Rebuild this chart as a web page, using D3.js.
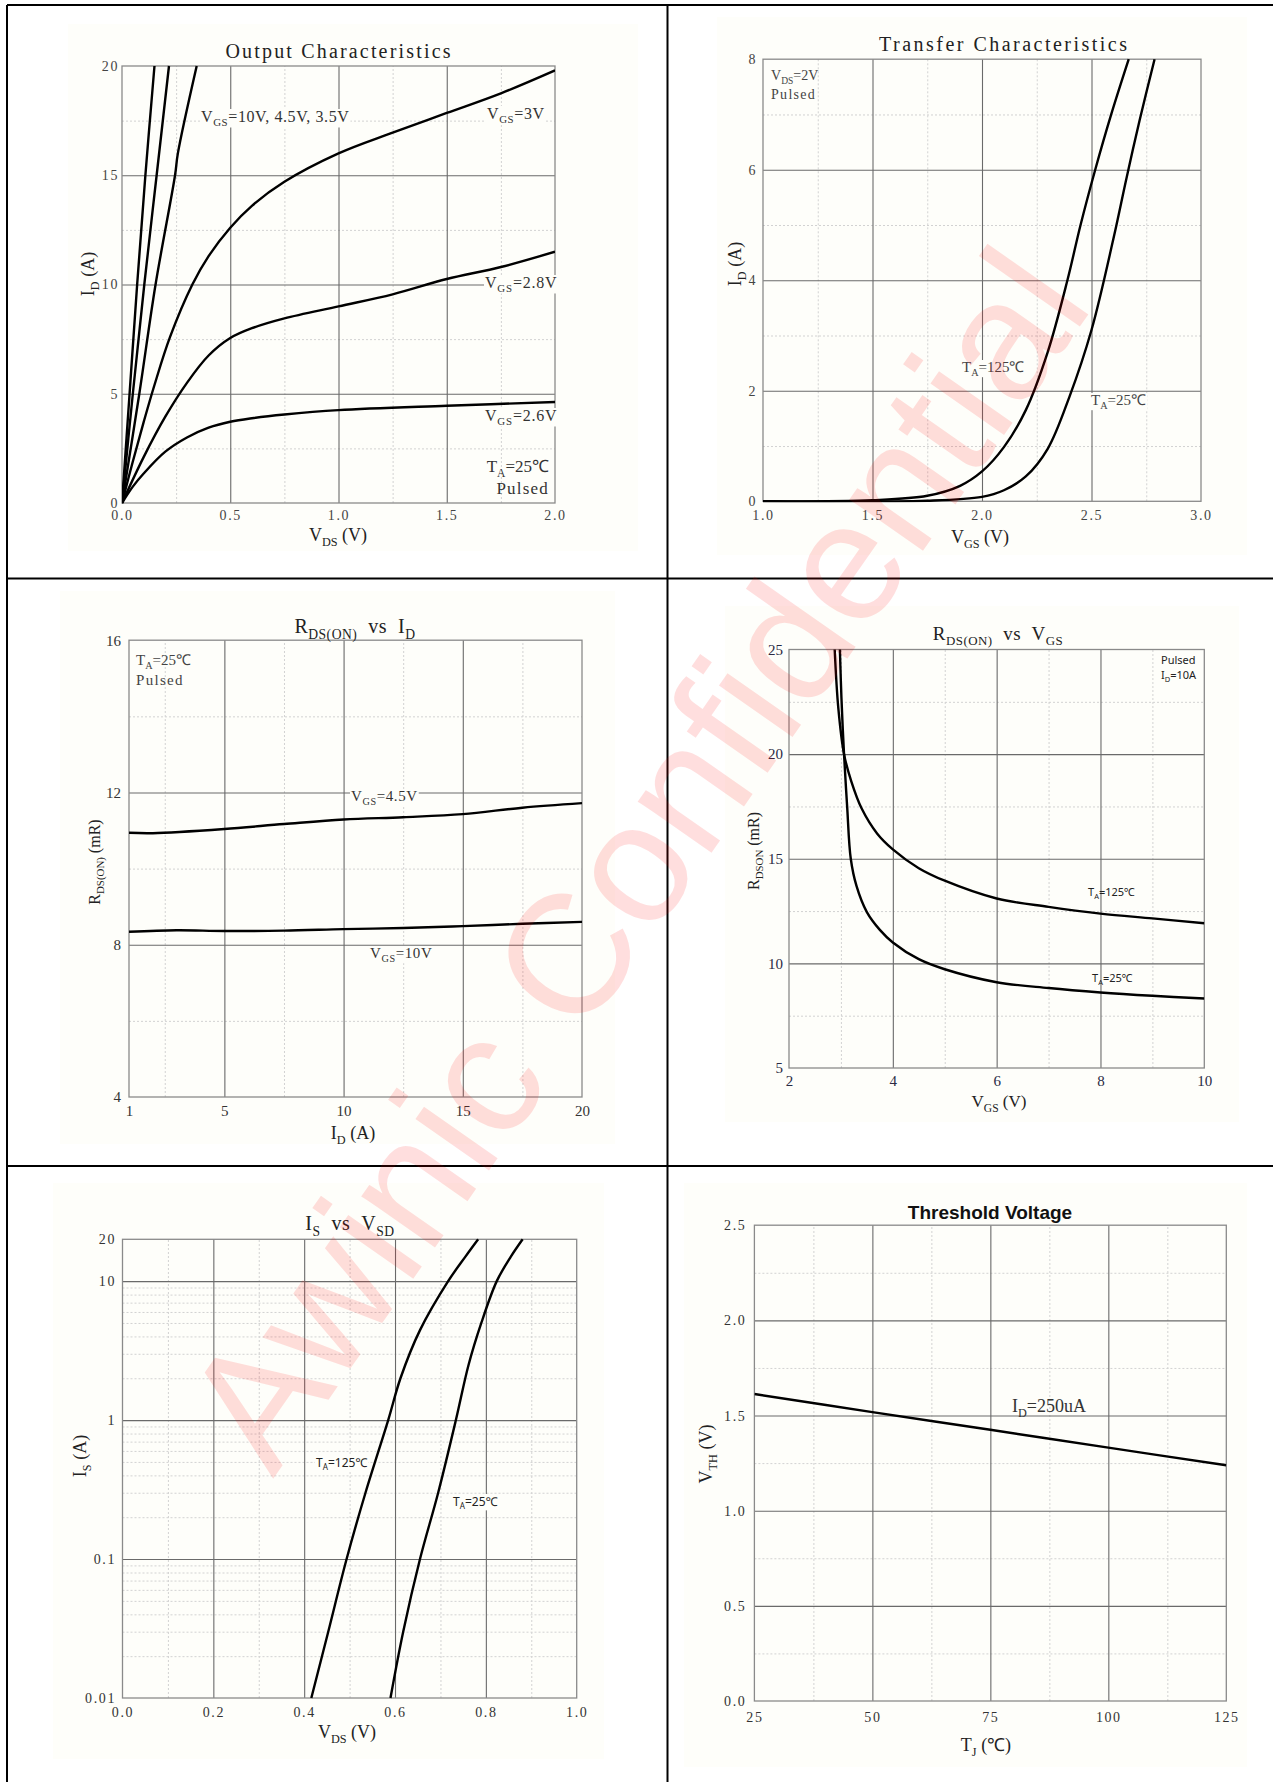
<!DOCTYPE html>
<html><head><meta charset="utf-8">
<script src="https://cdn.jsdelivr.net/npm/d3@7"></script>
<style>body{margin:0;background:#fff}svg{display:block}</style>
</head><body>
<script>
// ================= DATA =================
// Panel 1: Output Characteristics  [VDS (V), ID (A)]
const out10V  = [[0,0],[0.035,5],[0.07,10],[0.108,15],[0.15,20]];
const out45V  = [[0,0],[0.05,5],[0.103,10],[0.16,15],[0.217,20]];
const out35V  = [[0,0],[0.08,5],[0.155,10],[0.245,15],[0.258,16],[0.345,20]];
const out3V   = [[0,0],[0.05,1.9],[0.1,3.7],[0.15,5.4],[0.222,7.6],[0.325,10],[0.4,11.3],[0.5,12.6],[0.6,13.6],[0.75,14.7],[1.0,16.0],[1.25,16.95],[1.5,17.85],[1.75,18.75],[2.0,19.8]];
const out28V  = [[0,0],[0.1,2.1],[0.2,3.95],[0.3,5.5],[0.4,6.75],[0.5,7.55],[0.6,8.0],[0.75,8.45],[1.0,9.0],[1.25,9.55],[1.5,10.25],[1.75,10.8],[2.0,11.5]];
const out26V  = [[0,0],[0.05,0.75],[0.1,1.35],[0.2,2.35],[0.3,3.0],[0.4,3.45],[0.5,3.72],[0.6,3.88],[0.75,4.05],[1.0,4.25],[1.5,4.45],[2.0,4.62]];
const outXTicks = [0,0.5,1,1.5,2];     const outXLabels = ["0.0","0.5","1.0","1.5","2.0"];
const outYTicks = [0,5,10,15,20];      const outYLabels = ["0","5","10","15","20"];

// Panel 2: Transfer Characteristics [VGS (V), ID (A)]
const tr125 = [[1.0,0],[1.5,0.02],[1.75,0.1],[1.9,0.28],[2.0,0.54],[2.1,0.98],[2.2,1.65],[2.3,2.7],[2.39,4.0],[2.45,5.0],[2.517,6.0],[2.59,7.0],[2.67,8.0]];
const tr25  = [[1.0,0],[1.75,0.01],[2.0,0.08],[2.1,0.2],[2.2,0.45],[2.3,0.95],[2.4,1.9],[2.5,3.1],[2.6,4.75],[2.66,5.85],[2.72,6.9],[2.788,8.0]];
const trXTicks = [1,1.5,2,2.5,3];      const trXLabels = ["1.0","1.5","2.0","2.5","3.0"];
const trYTicks = [0,2,4,6,8];          const trYLabels = ["0","2","4","6","8"];

// Panel 3: RDS(ON) vs ID [ID (A), R (mR)]
const rid45 = [[1,10.94],[2,10.93],[5,11.04],[7.5,11.17],[10,11.29],[12.5,11.35],[15,11.43],[17.5,11.6],[20,11.72]];
const rid10 = [[1,8.34],[3,8.38],[5,8.36],[7.5,8.37],[10,8.41],[12.5,8.44],[15,8.49],[17.5,8.55],[20,8.6]];
const ridXTicks = [1,5,10,15,20];      const ridXLabels = ["1","5","10","15","20"];
const ridYTicks = [4,8,12,16];         const ridYLabels = ["4","8","12","16"];

// Panel 4: RDS(ON) vs VGS [VGS (V), R (mR)]
const rvg125 = [[2.88,25],[2.95,22.2],[3.06,20],[3.2,18.7],[3.4,17.4],[3.7,16.2],[4.0,15.45],[4.5,14.55],[5,13.95],[6,13.1],[7,12.7],[8,12.38],[9,12.15],[10,11.92]];
const rvg25  = [[2.98,25],[3.01,22.7],[3.06,20],[3.12,17.5],[3.19,15],[3.3,13.7],[3.5,12.45],[3.75,11.6],[4.0,11.0],[4.5,10.2],[5,9.72],[6,9.1],[7,8.82],[8,8.61],[9,8.45],[10,8.32]];
const rvgXTicks = [2,4,6,8,10];        const rvgXLabels = ["2","4","6","8","10"];
const rvgYTicks = [5,10,15,20,25];     const rvgYLabels = ["5","10","15","20","25"];

// Panel 5: IS vs VSD [VSD (V), IS (A)]
const isd125 = [[0.4157,0.01],[0.453,0.03],[0.4934,0.1],[0.535,0.3],[0.585,1],[0.612,2],[0.655,4.44],[0.717,10],[0.755,15],[0.783,20]];
const isd25  = [[0.59,0.01],[0.618,0.03],[0.655,0.1],[0.695,0.3],[0.734,1],[0.762,2.5],[0.79,5],[0.824,10],[0.855,15],[0.881,20]];
const isdXTicks = [0,0.2,0.4,0.6,0.8,1.0]; const isdXLabels = ["0.0","0.2","0.4","0.6","0.8","1.0"];
const isdYTicks = [0.01,0.1,1,10,20];  const isdYLabels = ["0.01","0.1","1","10","20"];

// Panel 6: Threshold Voltage [TJ (C), VTH (V)]
const vth = [[25,1.613],[50,1.518],[75,1.425],[100,1.331],[125,1.239]];
const vthXTicks = [25,50,75,100,125];  const vthXLabels = ["25","50","75","100","125"];
const vthYTicks = [0,0.5,1,1.5,2,2.5]; const vthYLabels = ["0.0","0.5","1.0","1.5","2.0","2.5"];

// ================= DRAWING =================
const SERIF = "'Liberation Serif','Times New Roman',serif";
const SANS  = "'Liberation Sans',Arial,sans-serif";
const NOTO  = "'Noto Sans','Open Sans',sans-serif";
const BG = '#fefefa';
const NB = '\u00a0';

const svg = d3.select('body').append('svg').attr('width',1273).attr('height',1782);
svg.append('rect').attr('width',1273).attr('height',1782).attr('fill','#fff');
const defs = svg.append('defs');

function rich(g, x, y, parts, o={}) {
  const fs = o.fs || 16;
  const t = g.append('text').attr('x',x).attr('y',y)
    .attr('font-family', o.ff || SERIF).attr('font-size', fs)
    .attr('fill', o.fill || '#222').attr('text-anchor', o.anchor || 'start');
  if (o.ls) t.attr('letter-spacing', o.ls);
  if (o.weight) t.attr('font-weight', o.weight);
  if (o.rotate) t.attr('transform', `rotate(${o.rotate},${x},${y})`);
  let sub = false;
  const d = fs * (o.subDy || 0.28);
  parts.forEach(p => {
    const isSub = Array.isArray(p);
    const s = t.append('tspan').text(isSub ? p[0] : p);
    if (isSub) { s.attr('font-size', fs*(o.subScale||0.68)); if(!sub) s.attr('dy', d); sub = true; }
    else if (sub) { s.attr('dy', -d); sub = false; }
  });
  if (o.bg) {
    const b = t.node().getBBox();
    g.insert('rect', () => t.node()).attr('x', b.x-1).attr('y', b.y+1).attr('width', b.width+2).attr('height', b.height-2).attr('fill', BG);
  }
  return t;
}

function gridStyle(sel, color, dash, width) {
  sel.select('.domain').remove();
  sel.selectAll('text').remove();
  sel.selectAll('line').attr('stroke', color).attr('stroke-width', width).attr('stroke-dasharray', dash);
}

let clipN = 0;
function panel(o) {
  const g = svg.append('g');
  g.append('rect').attr('x',o.bg[0]).attr('y',o.bg[1]).attr('width',o.bg[2]-o.bg[0]).attr('height',o.bg[3]-o.bg[1]).attr('fill',BG);
  const x = (o.xLog ? d3.scaleLog() : d3.scaleLinear()).domain(o.xDom).range([o.x0,o.x1]);
  const y = (o.yLog ? d3.scaleLog() : d3.scaleLinear()).domain(o.yDom).range([o.y1,o.y0]);
  const w = o.x1-o.x0, h = o.y1-o.y0;
  g.append('g').attr('transform',`translate(0,${o.y1})`)
    .call(d3.axisBottom(x).tickValues(o.xMinor).tickSize(-h).tickFormat(''))
    .call(s => gridStyle(s,'#d2d2d2','2,2',1));
  g.append('g').attr('transform',`translate(${o.x0},0)`)
    .call(d3.axisLeft(y).tickValues(o.yMinor).tickSize(-w).tickFormat(''))
    .call(s => gridStyle(s,'#d2d2d2','2,2',1));
  g.append('g').attr('transform',`translate(0,${o.y1})`)
    .call(d3.axisBottom(x).tickValues(o.xMajor).tickSize(-h).tickFormat(''))
    .call(s => gridStyle(s,'#6a6a6a',null,1.1));
  g.append('g').attr('transform',`translate(${o.x0},0)`)
    .call(d3.axisLeft(y).tickValues(o.yMajor).tickSize(-w).tickFormat(''))
    .call(s => gridStyle(s,'#6a6a6a',null,1.1));
  g.append('rect').attr('x',o.x0).attr('y',o.y0).attr('width',w).attr('height',h)
    .attr('fill','none').attr('stroke','#8a8a8a').attr('stroke-width',1.3);
  const xa = g.append('g').attr('transform',`translate(0,${o.y1})`)
    .call(d3.axisBottom(x).tickValues(o.xTicks).tickFormat((d,i)=>o.xLabels[i]).tickSize(0).tickPadding(o.xPad));
  xa.select('.domain').remove();
  xa.selectAll('text').attr('font-family',SERIF).attr('font-size',o.tickFs).attr('fill',o.tickColor||'#333').attr('letter-spacing',o.tickLs||0);
  const ya = g.append('g').attr('transform',`translate(${o.x0},0)`)
    .call(d3.axisLeft(y).tickValues(o.yTicks).tickFormat((d,i)=>o.yLabels[i]).tickSize(0).tickPadding(o.yPad));
  ya.select('.domain').remove();
  ya.selectAll('text').attr('font-family',SERIF).attr('font-size',o.tickFs).attr('fill',o.tickColor||'#333').attr('letter-spacing',o.tickLs||0);
  const id = 'clip' + (clipN++);
  defs.append('clipPath').attr('id',id).append('rect').attr('x',o.x0).attr('y',o.y0-1).attr('width',w).attr('height',h+2);
  const line = d3.line().x(d=>x(d[0])).y(d=>y(d[1])).curve(d3.curveCatmullRom.alpha(0.5));
  const lg = g.append('g').attr('clip-path',`url(#${id})`);
  lg.selectAll('path').data(o.series).join('path').attr('d',line)
    .attr('fill','none').attr('stroke','#000').attr('stroke-width',2.4).attr('stroke-linejoin','round');
  return g;
}

// ---------- Panel 1 ----------
const g1 = panel({bg:[68,24,638,551], x0:122,x1:555,y0:66,y1:503, xDom:[0,2], yDom:[0,20],
  xMajor:[0.5,1,1.5], xMinor:[0.25,0.75,1.25,1.75], yMajor:[5,10,15], yMinor:[2.5,7.5,12.5,17.5],
  xTicks:outXTicks, xLabels:outXLabels, yTicks:outYTicks, yLabels:outYLabels,
  tickFs:14, tickLs:1.6, xPad:7, yPad:3, tickColor:'#444',
  series:[out10V,out45V,out35V,out3V,out28V,out26V]});
svg.append('text').attr('x',338).attr('y',58).attr('text-anchor','middle').attr('font-family',SERIF)
  .attr('font-size',20).attr('fill','#222').attr('textLength',225).text('Output Characteristics');
rich(g1, 338, 541, ["V",["DS"],NB+"(V)"], {fs:18, anchor:'middle'});
rich(g1, 94, 274, ["I",["D"],NB+"(A)"], {fs:18, anchor:'middle', rotate:-90});
rich(g1, 201, 122, ["V",["GS"],"=10V, 4.5V, 3.5V"], {fs:16, ls:0.6, bg:true, fill:'#333'});
rich(g1, 487, 119, ["V",["GS"],"=3V"], {fs:16, ls:0.6, bg:true, fill:'#333'});
rich(g1, 485, 288, ["V",["GS"],"=2.8V"], {fs:16, ls:0.8, bg:true, fill:'#333'});
rich(g1, 485, 421, ["V",["GS"],"=2.6V"], {fs:16, ls:0.8, bg:true, fill:'#333'});
rich(g1, 549, 472, ["T",["A"],"=25℃"], {fs:17, anchor:'end', fill:'#333'});
rich(g1, 549, 494, ["Pulsed"], {fs:17, ls:1.2, anchor:'end', fill:'#333'});

// ---------- Panel 2 ----------
const g2 = panel({bg:[717,17,1247,555], x0:763,x1:1201,y0:59.2,y1:501.3, xDom:[1,3], yDom:[0,8],
  xMajor:[1.5,2,2.5], xMinor:[1.25,1.75,2.25,2.75], yMajor:[2,4,6], yMinor:[1,3,5,7],
  xTicks:trXTicks, xLabels:trXLabels, yTicks:trYTicks, yLabels:trYLabels,
  tickFs:14, tickLs:1.6, xPad:8.5, yPad:6, tickColor:'#444',
  series:[tr125,tr25]});
svg.append('text').attr('x',1003).attr('y',51).attr('text-anchor','middle').attr('font-family',SERIF)
  .attr('font-size',20).attr('fill','#222').attr('textLength',248).text('Transfer Characteristics');
rich(g2, 980, 543, ["V",["GS"],NB+"(V)"], {fs:18, anchor:'middle'});
rich(g2, 741, 264, ["I",["D"],NB+"(A)"], {fs:18, anchor:'middle', rotate:-90});
rich(g2, 771, 80, ["V",["DS"],"=2V"], {fs:14, fill:'#444'});
rich(g2, 771, 99, ["Pulsed"], {fs:14, ls:1.3, fill:'#444'});
rich(g2, 962, 372, ["T",["A"],"=125℃"], {fs:15, bg:true, fill:'#444'});
rich(g2, 1091, 405, ["T",["A"],"=25℃"], {fs:15, bg:true, fill:'#444'});

// ---------- Panel 3 ----------
const g3 = panel({bg:[60,591,615,1144], x0:129,x1:582,y0:640.2,y1:1097, xDom:[1,20], yDom:[4,16],
  xMajor:[5,10,15], xMinor:[2.5,7.5,12.5,17.5], yMajor:[8,12], yMinor:[6,10,14],
  xTicks:ridXTicks, xLabels:ridXLabels, yTicks:ridYTicks, yLabels:ridYLabels,
  tickFs:15, tickLs:0, xPad:8.3, yPad:8, tickColor:'#333',
  series:[rid45,rid10]});
rich(g3, 355, 633, ["R",["DS(ON)"],NB+NB+"vs"+NB+NB+"I",["D"]], {fs:20, anchor:'middle', fill:'#222', ls:0.5});
rich(g3, 353, 1139, ["I",["D"],NB+"(A)"], {fs:18, anchor:'middle'});
rich(g3, 100, 862, ["R",["DS(ON)"],NB+"(mR)"], {fs:16, anchor:'middle', rotate:-90});
rich(g3, 136, 665, ["T",["A"],"=25℃"], {fs:15, fill:'#444'});
rich(g3, 136, 685, ["Pulsed"], {fs:15, ls:1.3, fill:'#444'});
rich(g3, 351, 801, ["V",["GS"],"=4.5V"], {fs:15, ls:0.6, bg:true, fill:'#333'});
rich(g3, 370, 958, ["V",["GS"],"=10V"], {fs:15, ls:0.6, bg:true, fill:'#333'});

// ---------- Panel 4 ----------
const g4 = panel({bg:[725,606,1239,1122], x0:789,x1:1204.3,y0:649.5,y1:1068, xDom:[2,10], yDom:[5,25],
  xMajor:[4,6,8], xMinor:[3,5,7,9], yMajor:[10,15,20], yMinor:[7.5,12.5,17.5,22.5],
  xTicks:rvgXTicks, xLabels:rvgXLabels, yTicks:rvgYTicks, yLabels:rvgYLabels,
  tickFs:15, tickLs:0, xPad:7.3, yPad:6, tickColor:'#2a2a44',
  series:[rvg125,rvg25]});
rich(g4, 998, 640, ["R",["DS(ON)"],NB+NB+"vs"+NB+NB+"V",["GS"]], {fs:19, anchor:'middle', fill:'#222', ls:0.5});
rich(g4, 999, 1107, ["V",["GS"],NB+"(V)"], {fs:17, anchor:'middle'});
rich(g4, 759, 851, ["R",["DSON"],NB+"(mR)"], {fs:16, anchor:'middle', rotate:-90});
rich(g4, 1161, 664, ["Pulsed"], {fs:11, ff:NOTO, fill:'#222'});
rich(g4, 1161, 679, ["I",["D"],"=10A"], {fs:11, ff:NOTO, fill:'#222'});
rich(g4, 1088, 896, ["T",["A"],"=125℃"], {fs:11, ff:NOTO, fill:'#222'});
rich(g4, 1092, 982, ["T",["A"],"=25℃"], {fs:11, ff:NOTO, fill:'#222'});

// ---------- Panel 5 ----------
const isdYMinor = [];
[0.01,0.1,1].forEach(dec => { for (let k=2;k<=9;k++) isdYMinor.push(+(dec*k).toPrecision(3)); });
const g5 = panel({bg:[53,1183,604,1759], x0:122.5,x1:576.7,y0:1239.3,y1:1698, xDom:[0,1], yDom:[0.01,20], yLog:true,
  xMajor:[0.2,0.4,0.6,0.8], xMinor:[0.1,0.3,0.5,0.7,0.9], yMajor:[0.1,1,10], yMinor:isdYMinor,
  xTicks:isdXTicks, xLabels:isdXLabels, yTicks:isdYTicks, yLabels:isdYLabels,
  tickFs:14, tickLs:1.6, xPad:9, yPad:6.5, tickColor:'#333',
  series:[isd125,isd25]});
rich(g5, 350, 1230, ["I",["S"],NB+NB+"vs"+NB+NB+"V",["SD"]], {fs:20, anchor:'middle', fill:'#222', ls:0.5});
rich(g5, 347, 1738, ["V",["DS"],NB+"(V)"], {fs:18, anchor:'middle'});
rich(g5, 86, 1456, ["I",["S"],NB+"(A)"], {fs:18, anchor:'middle', rotate:-90});
rich(g5, 316, 1467, ["T",["A"],"=125℃"], {fs:12, ff:NOTO, bg:true, fill:'#222'});
rich(g5, 453, 1506, ["T",["A"],"=25℃"], {fs:12, ff:NOTO, bg:true, fill:'#222'});

// ---------- Panel 6 ----------
const g6 = panel({bg:[684,1183,1247,1767], x0:754.4,x1:1226.3,y0:1225.2,y1:1701, xDom:[25,125], yDom:[0,2.5],
  xMajor:[50,75,100], xMinor:[37.5,62.5,87.5,112.5], yMajor:[0.5,1,1.5,2], yMinor:[0.25,0.75,1.25,1.75,2.25],
  xTicks:vthXTicks, xLabels:vthXLabels, yTicks:vthYTicks, yLabels:vthYLabels,
  tickFs:14, tickLs:1.6, xPad:11, yPad:8, tickColor:'#333',
  series:[vth]});
svg.append('text').attr('x',990).attr('y',1219).attr('text-anchor','middle').attr('font-family',SANS)
  .attr('font-weight','bold').attr('font-size',19).attr('fill','#111').text('Threshold Voltage');
rich(g6, 986, 1751, ["T",["J"],NB+"(℃)"], {fs:18, anchor:'middle'});
rich(g6, 712, 1454, ["V",["TH"],NB+"(V)"], {fs:18, anchor:'middle', rotate:-90});
rich(g6, 1012, 1412, ["I",["D"],"=250uA"], {fs:18, fill:'#333'});

// ---------- frame ----------
svg.append('path').attr('d','M7,5H1273M7,5V1782M667.5,5V1782M7,578.5H1273M7,1166H1273')
  .attr('stroke','#000').attr('stroke-width',2).attr('fill','none');

// ---------- watermark ----------
svg.append('text').attr('x',684).attr('y',892).attr('text-anchor','middle')
  .attr('transform','rotate(-55,684,892)').attr('font-family',SANS).attr('font-size',170)
  .attr('fill','#ff0000').attr('fill-opacity',0.13).text('Awinic Confidential');
</script>
</body></html>
